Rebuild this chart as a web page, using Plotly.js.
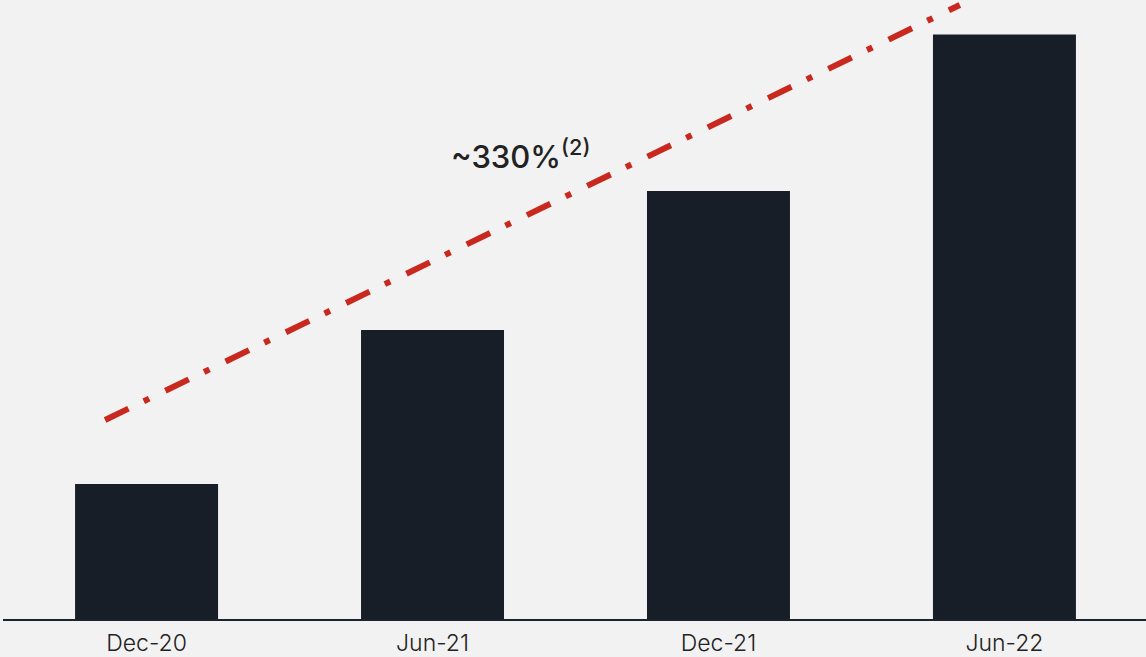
<!DOCTYPE html>
<html>
<head>
<meta charset="utf-8">
<script src="https://cdn.plot.ly/plotly-3.0.1.min.js"></script>
<style>
html,body{margin:0;padding:0;background:#f2f2f2;}
#chart{width:1146px;height:657px;}
</style>
</head>
<body>
<div id="chart"></div>
<script>
// Data
const categories = ["Dec-20", "Jun-21", "Dec-21", "Jun-22"];
const values = [1.0, 2.14, 3.17, 4.33];
// Growth trend indicator (decorative dash-dot line) endpoints in data units
const trendX = [-0.145, 2.844];
const trendY = [1.474, 4.548];
const growthLabel = "~330%<sup>(2)</sup>";

const xPos = categories.map((c, i) => i);

const traces = [
  {
    type: "bar",
    x: xPos,
    y: values,
    width: 0.5,
    marker: {color: "#181e27", line: {width: 0}},
    hoverinfo: "skip"
  },
  {
    type: "scatter",
    mode: "lines",
    x: trendX,
    y: trendY,
    line: {color: "#c9281f", width: 6, dash: "26px,17px,6px,18px"},
    hoverinfo: "skip"
  }
];

const layout = {
  width: 1146,
  height: 657,
  margin: {l: 3, r: 0, t: 0, b: 38, pad: 0},
  paper_bgcolor: "#f2f2f2",
  plot_bgcolor: "#f2f2f2",
  showlegend: false,
  xaxis: {
    range: [-0.502, 3.495],
    tickvals: xPos,
    ticktext: categories,
    showgrid: false,
    zeroline: false,
    showline: true,
    linecolor: "#1c2330",
    linewidth: 2,
    ticks: "",
    ticklabelstandoff: 2,
    tickfont: {family: "Inter, 'Noto Sans', sans-serif", size: 23, color: "#222222", weight: 300},
    fixedrange: true
  },
  yaxis: {
    range: [0, 4.585],
    showgrid: false,
    zeroline: false,
    showticklabels: false,
    showline: false,
    fixedrange: true
  },
  annotations: [
    {
      x: 1.306,
      y: 3.437,
      xref: "x",
      yref: "y",
      text: growthLabel,
      showarrow: false,
      font: {family: "Inter, 'Noto Sans', sans-serif", size: 31, color: "#222222", weight: 500}
    }
  ]
};

Plotly.newPlot("chart", traces, layout, {displayModeBar: false, staticPlot: true});
</script>
</body>
</html>
